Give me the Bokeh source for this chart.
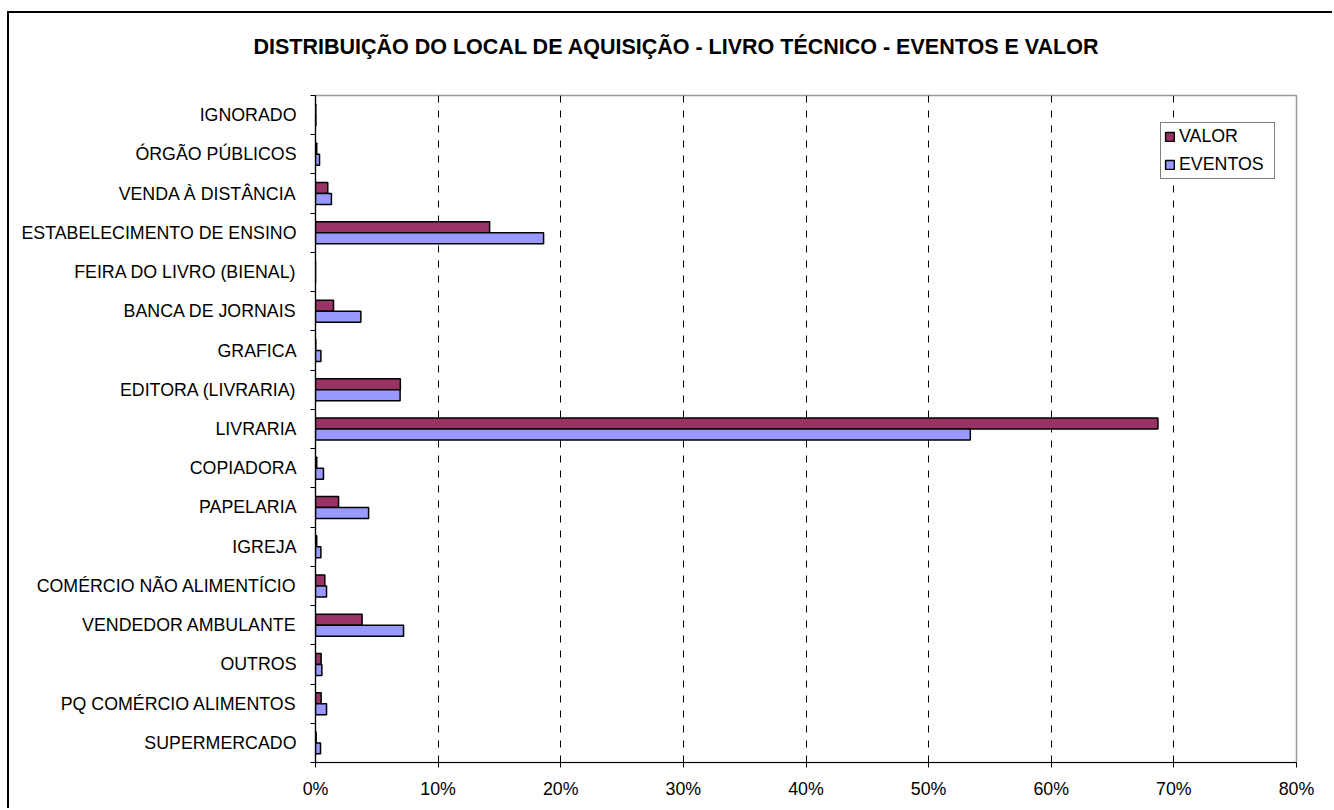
from bokeh.plotting import figure
from bokeh.models import FixedTicker, PrintfTickFormatter, ColumnDataSource, Range1d, Title
from bokeh.embed import file_html
from bokeh.resources import INLINE

# ---- data (top to bottom as shown) ----
categories = [
    "IGNORADO", "ÓRGÃO PÚBLICOS", "VENDA À DISTÂNCIA", "ESTABELECIMENTO DE ENSINO",
    "FEIRA DO LIVRO (BIENAL)", "BANCA DE JORNAIS", "GRAFICA", "EDITORA (LIVRARIA)",
    "LIVRARIA", "COPIADORA", "PAPELARIA", "IGREJA", "COMÉRCIO NÃO ALIMENTÍCIO",
    "VENDEDOR AMBULANTE", "OUTROS", "PQ COMÉRCIO ALIMENTOS", "SUPERMERCADO",
]
valor = [0.02, 0.10, 1.00, 14.2, 0.0, 1.47, 0.02, 6.92, 68.7, 0.10, 1.88, 0.10,
         0.76, 3.80, 0.46, 0.46, 0.05]
eventos = [0.03, 0.33, 1.30, 18.6, 0.0, 3.70, 0.44, 6.90, 53.4, 0.65, 4.33, 0.44,
           0.90, 7.18, 0.52, 0.90, 0.41]
x_ticks = [0, 10, 20, 30, 40, 50, 60, 70, 80]
title_text = "DISTRIBUIÇÃO DO LOCAL DE AQUISIÇÃO - LIVRO TÉCNICO - EVENTOS E VALOR"

n = len(categories)
centers = [n - i - 0.5 for i in range(n)]
off = 0.14
src = ColumnDataSource(dict(
    y_valor=[c + off for c in centers],
    y_eventos=[c - off for c in centers],
    valor=valor, eventos=eventos,
))

FONT = "Liberation Sans"

p = figure(width=1325, height=797, output_backend="svg", toolbar_location=None,
           x_range=Range1d(0, 80), y_range=Range1d(0, n),
           min_border_left=306, min_border_right=38, min_border_top=82,
           min_border_bottom=48)
p.margin = (11, 0, 0, 7)
p.styles = {"border-left": "2px solid black", "border-top": "2px solid black"}
p.background_fill_color = "white"
p.border_fill_color = "white"
p.outline_line_color = "#9a9a9a"
p.outline_line_width = 1.5

p.hbar(y="y_valor", right="valor", left=0, height=0.28, source=src,
       fill_color="#993366", line_color="black", line_width=1.5,
       legend_label="VALOR")
p.hbar(y="y_eventos", right="eventos", left=0, height=0.28, source=src,
       fill_color="#9999FF", line_color="black", line_width=1.5,
       legend_label="EVENTOS")

# x axis
xa = p.xaxis[0]
xa.ticker = FixedTicker(ticks=x_ticks, minor_ticks=[])
xa.formatter = PrintfTickFormatter(format="%d%%")
xa.axis_line_color = "black"
xa.axis_line_width = 1.2
xa.major_tick_line_color = "black"
xa.major_tick_out = 5
xa.major_tick_in = 0
xa.minor_tick_line_color = None
xa.major_label_standoff = 11
xa.major_label_text_font = FONT
xa.major_label_text_font_size = "17.8px"
xa.major_label_text_color = "black"

# y axis: labels at centers, ticks at category boundaries
ya = p.yaxis[0]
ya.ticker = FixedTicker(ticks=centers, minor_ticks=list(range(n + 1)))
ya.major_label_overrides = {c: lab for c, lab in zip(centers, categories)}
ya.axis_line_color = "black"
ya.axis_line_width = 1.2
ya.major_tick_out = 0
ya.major_tick_in = 0
ya.major_tick_line_color = None
ya.minor_tick_line_color = "black"
ya.minor_tick_out = 5
ya.minor_tick_in = 0
ya.major_label_standoff = 14
ya.major_label_text_font = FONT
ya.major_label_text_font_size = "17.8px"
ya.major_label_text_color = "black"

# grid
p.ygrid.grid_line_color = None
p.xgrid.ticker = FixedTicker(ticks=x_ticks[1:-1])
p.xgrid.grid_line_color = "black"
p.xgrid.grid_line_width = 1
p.xgrid.grid_line_dash = "7 8"

# legend
lg = p.legend[0]
lg.location = (845, 583)
lg.label_text_font = FONT
lg.label_text_font_size = "17.8px"
lg.label_text_color = "black"
lg.glyph_width = 11
lg.glyph_height = 11
lg.label_standoff = 4
lg.label_height = 20
lg.spacing = 7
lg.padding = 3
lg.margin = 0
lg.label_width = 92
lg.border_line_color = "black"
lg.border_line_width = 1
lg.background_fill_color = "white"
lg.background_fill_alpha = 1

# spacer panel between title and frame
p.add_layout(Title(text=" ", text_font_size="10px", standoff=19), "above")

# title
p.title.text = title_text
p.title.align = "left"
p.title.offset = -62
p.title.standoff = 10
p.title.text_font = FONT
p.title.text_font_size = "21.5px"
p.title.text_font_style = "bold"
p.title.text_color = "black"

open("out.html", "w").write(file_html(p, INLINE))
